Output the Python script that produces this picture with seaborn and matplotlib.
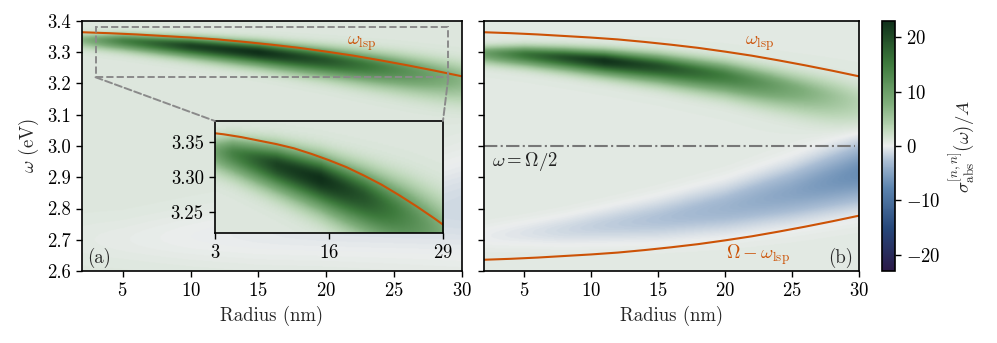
import numpy as np
import pandas as pd
import seaborn as sns
import matplotlib.pyplot as plt
from matplotlib.colors import LinearSegmentedColormap
from matplotlib.patches import Rectangle, ConnectionPatch

# ---- data ----
radius = [2, 4, 6, 8, 10, 12, 14, 16, 18, 20, 22, 24, 26, 28, 30]
omega_lsp = [3.364, 3.361, 3.357, 3.352, 3.347, 3.341, 3.333, 3.324, 3.314, 3.302,
             3.289, 3.274, 3.258, 3.241, 3.223]
OMEGA = 6.0  # pump frequency (eV)

# band ridges: radius, centre (eV), width (eV), amplitude
r_a = [2, 5, 10, 15, 20, 25, 30]
cen_a = [3.338, 3.334, 3.318, 3.298, 3.272, 3.243, 3.210]
wid_a = [0.013, 0.015, 0.018, 0.021, 0.025, 0.030, 0.035]
amp_a = [6, 13, 20, 22, 18, 12, 6]
blue_cen_a = [2.70, 2.70, 2.71, 2.72, 2.74, 2.77, 2.80]
blue_wid_a = [0.05, 0.05, 0.06, 0.07, 0.08, 0.10, 0.12]
blue_amp_a = [-0.4, -0.6, -1.0, -1.3, -1.6, -1.9, -2.2]

r_b = [2, 5, 8, 11, 15, 20, 25, 30]
cen_b = [3.294, 3.290, 3.281, 3.270, 3.252, 3.222, 3.180, 3.138]
wid_b = [0.016, 0.018, 0.020, 0.022, 0.025, 0.029, 0.034, 0.040]
amp_b = [9, 15, 19, 22, 19, 14, 8, 3]
blue_cen_b = [2.71, 2.72, 2.73, 2.745, 2.765, 2.80, 2.85, 2.91]
blue_wid_b = [0.028, 0.030, 0.034, 0.038, 0.045, 0.052, 0.060, 0.068]
blue_amp_b = [-0.8, -1.3, -1.9, -2.5, -3.2, -4.2, -5.6, -7.6]

cb_ticks = [-20, -10, 0, 10, 20]
inset_xticks = [3, 16, 29]
inset_yticks = [3.25, 3.30, 3.35]

FS = 13.5
sns.set_theme(style="ticks")
plt.rcParams.update({
    "font.family": ["cmr10", "DejaVu Serif"],
    "mathtext.fontset": "cm",
    "axes.formatter.use_mathtext": True,
    "axes.unicode_minus": True,
    "font.size": FS,
    "axes.labelsize": FS,
    "xtick.labelsize": FS,
    "ytick.labelsize": FS,
    "axes.edgecolor": "black",
    "axes.linewidth": 1.2,
    "xtick.color": "black",
    "ytick.color": "black",
    "xtick.major.width": 1.0,
    "ytick.major.width": 1.0,
    "xtick.major.size": 4,
    "ytick.major.size": 4,
    "xtick.major.pad": 4,
    "ytick.major.pad": 4,
})

cmap = LinearSegmentedColormap.from_list("absdiv", [
    (0.00, "#2b1a48"), (0.17, "#26477a"), (0.33, "#5b83ae"), (0.44, "#a9bdd4"),
    (0.50, "#eceeee"), (0.57, "#bcd7b8"), (0.67, "#7fae7b"), (0.83, "#3d7a3c"),
    (1.00, "#10301a")])
VMAX = 23

rg = np.linspace(2, 30, 300)
wg = np.linspace(2.6, 3.4, 400)
R, W = np.meshgrid(rg, wg)


def band(rp, cp, sp, ap, low=1.0):
    # gaussian ridge along the read-off centres; `low` widens the lower flank
    c = np.interp(R, rp, cp)
    s = np.interp(R, rp, sp)
    a = np.interp(R, rp, ap)
    s = np.where(W < c, s * low, s)
    return a * np.exp(-0.5 * ((W - c) / s) ** 2)


field_a = 1.0 + band(r_a, cen_a, wid_a, amp_a, 1.35) + band(r_a, blue_cen_a, blue_wid_a, blue_amp_a)
field_b = 0.7 + band(r_b, cen_b, wid_b, amp_b, 1.35) + band(r_b, blue_cen_b, blue_wid_b, blue_amp_b)

curves = pd.DataFrame({"radius": radius, "lsp": omega_lsp})
curves["lower"] = OMEGA - curves["lsp"]
ORANGE = "#cc5206"

fig = plt.figure(figsize=(9.97, 3.43), dpi=100)
ax_a = fig.add_axes([0.0822, 0.2099, 0.3811, 0.7289])
ax_b = fig.add_axes([0.4854, 0.2099, 0.3761, 0.7289])
cax = fig.add_axes([0.8847, 0.2099, 0.0130, 0.7289])
ax_in = fig.add_axes([0.2156, 0.3207, 0.2287, 0.3265])

for ax, fld in [(ax_a, field_a), (ax_b, field_b), (ax_in, field_a)]:
    im = ax.imshow(fld, extent=[2, 30, 2.6, 3.4], origin="lower", aspect="auto",
                   cmap=cmap, vmin=-VMAX, vmax=VMAX, interpolation="bilinear")
    sns.lineplot(data=curves, x="radius", y="lsp", ax=ax, color=ORANGE, lw=1.5)

sns.lineplot(data=curves, x="radius", y="lower", ax=ax_b, color=ORANGE, lw=1.5)

for ax in (ax_a, ax_b):
    ax.set_xlim(2, 30)
    ax.set_ylim(2.6, 3.4)
    ax.set_xticks([5, 10, 15, 20, 25, 30])
    ax.set_yticks(np.arange(2.6, 3.41, 0.1))
    ax.set_xlabel("Radius (nm)")
ax_a.set_ylabel(r"$\omega$ (eV)")
ax_b.set_ylabel("")
ax_b.set_yticklabels([])
ax_a.yaxis.set_major_formatter(plt.FormatStrFormatter("%.1f"))

ax_in.set_xlim(3, 29)
ax_in.set_ylim(3.22, 3.38)
ax_in.set_xticks(inset_xticks)
ax_in.set_yticks(inset_yticks)
ax_in.yaxis.set_major_formatter(plt.FormatStrFormatter("%.2f"))
ax_in.set_xlabel("")
ax_in.set_ylabel("")

# zoom box and connectors
ax_a.add_patch(Rectangle((3, 3.22), 26, 0.16, fill=False, ls="--", lw=1.4,
                         color="#8a8a8a", zorder=3))
for xa, xi in [(3, 3), (29, 29)]:
    con = ConnectionPatch(xyA=(xa, 3.22), coordsA=ax_a.transData,
                          xyB=(xi, 3.38), coordsB=ax_in.transData,
                          ls="--", lw=1.4, color="#8a8a8a", zorder=2)
    fig.add_artist(con)

ax_b.axhline(OMEGA / 2, xmin=0, xmax=0.99, color="#777777", lw=1.5, ls="-.")

ax_a.text(21.5, 3.325, r"$\omega_{\mathrm{lsp}}$", color=ORANGE, fontsize=FS)
ax_b.text(21.5, 3.325, r"$\omega_{\mathrm{lsp}}$", color=ORANGE, fontsize=FS)
ax_b.text(20.1, 2.638, r"$\Omega-\omega_{\mathrm{lsp}}$", color=ORANGE, fontsize=FS)
ax_b.text(2.6, 2.935, r"$\omega=\Omega/2$", color="#222222", fontsize=FS)
ax_a.text(2.4, 2.625, "(a)", fontsize=FS)
ax_b.text(29.6, 2.625, "(b)", fontsize=FS, ha="right")

cb = fig.colorbar(im, cax=cax, ticks=cb_ticks)
cb.outline.set_linewidth(1.2)
cb.set_label(r"$\sigma_{\mathrm{abs}}^{[n,n]}(\omega)/A$", fontsize=FS, labelpad=4)

fig.savefig("out.png", dpi=100)
